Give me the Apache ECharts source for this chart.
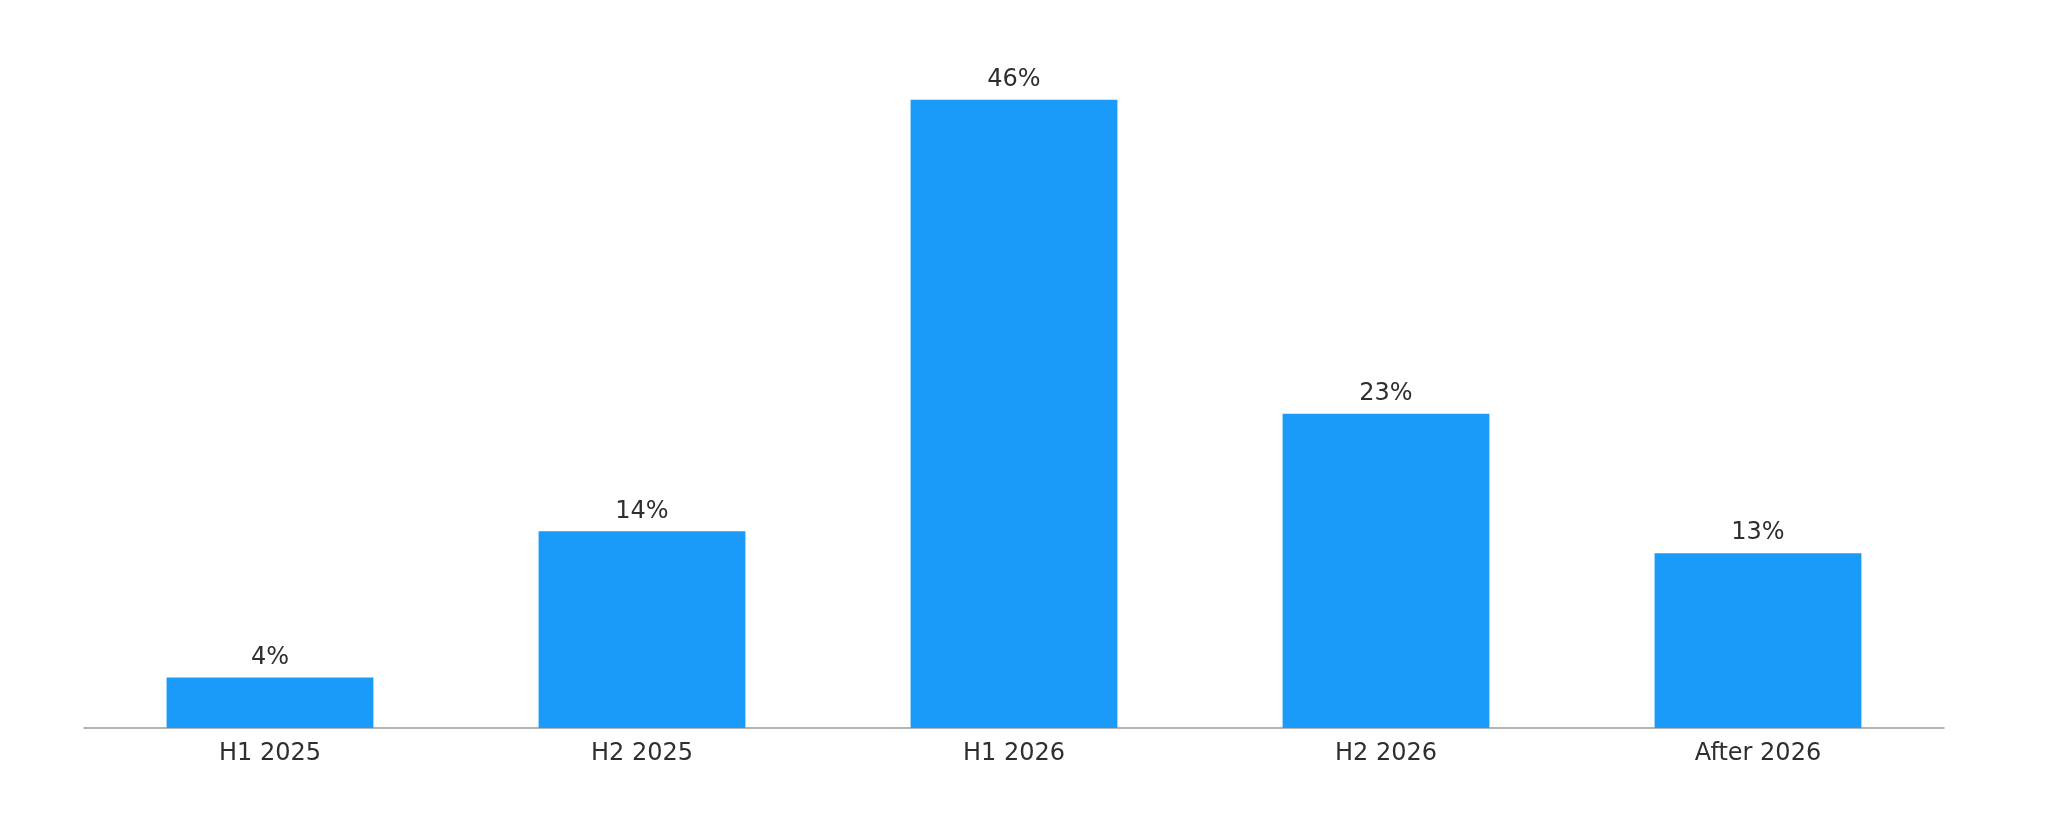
<!DOCTYPE html>
<html><head><meta charset="utf-8">
<script src="https://cdn.jsdelivr.net/npm/echarts@6/dist/echarts.min.js"></script>
<style>html,body{margin:0;padding:0;background:#fff}#c{width:2048px;height:826px}</style>
</head><body><div id="c"></div>
<script>
const categories = ["H1 2025", "H2 2025", "H1 2026", "H2 2026", "After 2026"];
const values = [3.7, 14.4, 46, 23, 12.8];
const valueLabels = ["4%", "14%", "46%", "23%", "13%"];

const chart = echarts.init(document.getElementById('c'), null, {renderer: 'canvas'});
chart.setOption({
  animation: false,
  grid: {left: 84, right: 104, top: 45, bottom: 98, containLabel: false},
  xAxis: {
    type: 'category', data: categories,
    axisLine: {show: true, lineStyle: {color: '#9a9a9a', width: 1.5}},
    axisTick: {show: false},
    axisLabel: {color: '#2e2e2e', fontSize: 24, fontFamily: 'DejaVu Sans', margin: 14}
  },
  yAxis: {type: 'value', min: 0, max: 50, show: false, splitLine: {show: false}},
  series: [{
    type: 'bar', data: values, barWidth: '55.6%',
    itemStyle: {color: '#1b9bf9'},
    label: {show: true, position: 'top', distance: 8,
      formatter: p => valueLabels[p.dataIndex],
      color: '#2e2e2e', fontSize: 24, fontFamily: 'DejaVu Sans'}
  }]
});
</script></body></html>
